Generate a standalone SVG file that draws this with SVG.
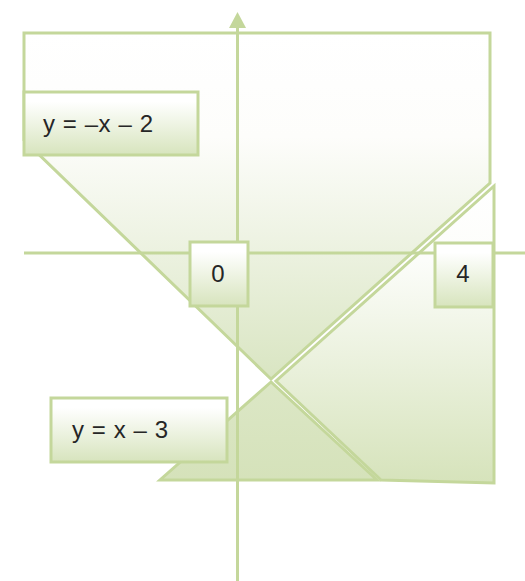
<svg xmlns="http://www.w3.org/2000/svg" width="525" height="581" viewBox="0 0 525 581">
  <defs>
    <linearGradient id="gA" x1="0" y1="0" x2="0" y2="1">
      <stop offset="0" stop-color="#ffffff"/>
      <stop offset="0.3" stop-color="#fdfdfb"/>
      <stop offset="1" stop-color="#d9e5c2"/>
    </linearGradient>
    <linearGradient id="gB" x1="0" y1="0" x2="0" y2="1">
      <stop offset="0" stop-color="#ffffff"/>
      <stop offset="0.25" stop-color="#fcfdfa"/>
      <stop offset="1" stop-color="#d6e3bb"/>
    </linearGradient>
    <linearGradient id="gC" x1="0" y1="0" x2="0" y2="1">
      <stop offset="0" stop-color="#dce7c6"/>
      <stop offset="1" stop-color="#d5e2ba"/>
    </linearGradient>
    <linearGradient id="gBox" x1="0" y1="0" x2="0" y2="1">
      <stop offset="0" stop-color="#ffffff"/>
      <stop offset="0.15" stop-color="#ffffff"/>
      <stop offset="1" stop-color="#d7e4bd"/>
    </linearGradient>
    <style>
      .sh { stroke: #c4d79b; stroke-width: 3; stroke-linejoin: miter; }
      .ax { stroke: #c4d79b; stroke-width: 3; fill: none; }
      .box { fill: url(#gBox); stroke: #c4d79b; stroke-width: 3; }
      .lbl { font-family: "Liberation Sans", Arial, sans-serif; font-size: 24px; fill: #262626; }
    </style>
  </defs>

  <g id="region-top">
    <polygon class="sh" fill="url(#gA)" points="24,33 490,33 490,183 271,379 24,140"/>
  </g>
  <g id="region-right">
    <polygon class="sh" fill="url(#gB)" points="494,186 494,483 381,480 276,381"/>
  </g>
  <g id="region-bottom">
    <polygon class="sh" fill="url(#gC)" points="271,382 160,480 377,480"/>
  </g>

  <g id="axes">
    <line class="ax" x1="24" y1="253" x2="525" y2="253"/>
    <line class="ax" x1="237.5" y1="26" x2="237.5" y2="581"/>
    <polygon points="237.5,12 229,28 246,28" fill="#c4d79b"/>
  </g>

  <g id="label-neg">
    <rect class="box" x="24" y="92" width="174" height="63"/>
    <text class="lbl" x="43" y="132" textLength="110" lengthAdjust="spacing">y = –x – 2</text>
  </g>
  <g id="label-0">
    <rect class="box" x="190" y="242" width="58" height="64"/>
    <text class="lbl" x="218" y="282" text-anchor="middle">0</text>
  </g>
  <g id="label-4">
    <rect class="box" x="435" y="243" width="58" height="64"/>
    <text class="lbl" x="463" y="282" text-anchor="middle">4</text>
  </g>
  <g id="label-pos">
    <rect class="box" x="51" y="398" width="176" height="64"/>
    <text class="lbl" x="72" y="438" textLength="96" lengthAdjust="spacing">y = x – 3</text>
  </g>
</svg>
